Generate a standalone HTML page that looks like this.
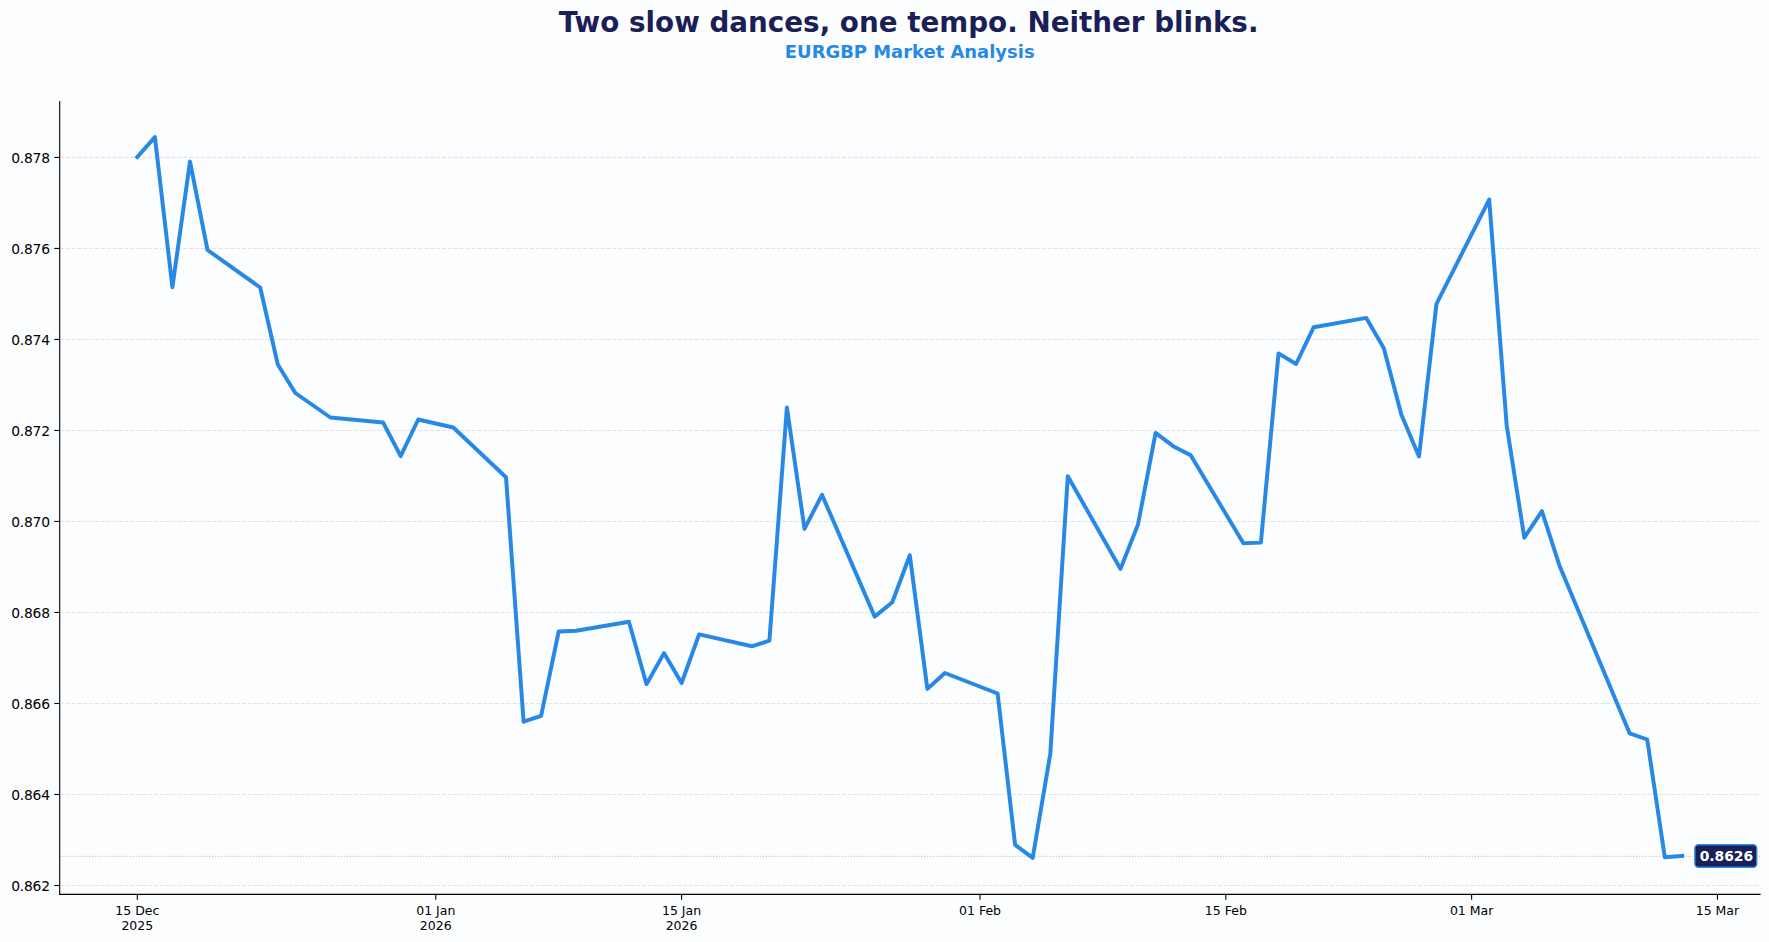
<!DOCTYPE html>
<html lang="en"><head><meta charset="utf-8"><title>EURGBP Market Analysis</title>
<style>
html,body{margin:0;padding:0;background:#fcfdff;}
body{width:1769px;height:942px;overflow:hidden;font-family:"DejaVu Sans","Liberation Sans",sans-serif;}
svg{display:block}
text{font-family:"DejaVu Sans","Liberation Sans",sans-serif;}
.yt{font-size:13.89px;fill:#000;text-anchor:end;letter-spacing:-0.24px}
.xt{font-size:12.5px;fill:#000;text-anchor:middle}
</style></head><body>
<svg width="1769" height="942" viewBox="0 0 1769 942">
<rect x="0" y="0" width="1769" height="942" fill="#fcfdff"/>
<text x="908.6" y="31.55" text-anchor="middle" font-size="27.78px" font-weight="bold" fill="#1b1f55">Two slow dances, one tempo. Neither blinks.</text>
<text x="909.7" y="58.0" text-anchor="middle" font-size="17.95px" font-weight="bold" fill="#2888e6">EURGBP Market Analysis</text>
<g stroke="#c9ced6" stroke-opacity="0.55" stroke-width="1.1" stroke-dasharray="4.1 1.78" fill="none">
<line x1="59.7" y1="885.50" x2="1760.6" y2="885.50"/>
<line x1="59.7" y1="794.49" x2="1760.6" y2="794.49"/>
<line x1="59.7" y1="703.48" x2="1760.6" y2="703.48"/>
<line x1="59.7" y1="612.47" x2="1760.6" y2="612.47"/>
<line x1="59.7" y1="521.46" x2="1760.6" y2="521.46"/>
<line x1="59.7" y1="430.45" x2="1760.6" y2="430.45"/>
<line x1="59.7" y1="339.44" x2="1760.6" y2="339.44"/>
<line x1="59.7" y1="248.43" x2="1760.6" y2="248.43"/>
<line x1="59.7" y1="157.42" x2="1760.6" y2="157.42"/>
</g>
<line x1="59.7" y1="856.4" x2="1760.6" y2="856.4" stroke="#a9adb5" stroke-opacity="0.7" stroke-width="1.1" stroke-dasharray="1.1 1.83"/>
<path d="M137.3 157.0 L154.9 137.1 L172.4 287.2 L190.0 161.6 L207.5 250.0 L260.2 287.5 L277.8 364.5 L295.3 393.0 L330.4 417.5 L383.1 422.5 L400.7 456.2 L418.2 419.5 L453.3 427.5 L506.0 477.2 L523.6 721.7 L541.1 715.8 L558.7 631.5 L576.2 630.7 L628.9 621.8 L646.5 684.2 L664.0 653.1 L681.6 683.0 L699.1 634.4 L751.8 646.3 L769.4 640.7 L786.9 407.5 L804.5 528.9 L822.0 494.8 L874.7 616.6 L892.3 602.2 L909.8 555.2 L927.4 688.9 L944.9 673.0 L997.6 693.5 L1015.1 844.8 L1032.7 857.8 L1050.3 753.8 L1067.8 476.3 L1120.5 568.9 L1138.0 524.5 L1155.6 432.9 L1173.2 446.2 L1190.7 455.2 L1243.4 543.3 L1260.9 542.6 L1278.5 353.4 L1296.1 364.0 L1313.6 327.3 L1366.3 317.9 L1383.8 348.2 L1401.4 414.7 L1419.0 456.5 L1436.5 303.8 L1489.2 199.6 L1506.7 425.5 L1524.3 537.7 L1541.9 511.2 L1559.4 565.4 L1629.6 733.3 L1647.2 739.5 L1664.8 857.2 L1682.3 855.9" fill="none" stroke="#2888e6" stroke-width="3.95" stroke-linejoin="round" stroke-linecap="square"/>
<g stroke="#000" stroke-width="1.1" fill="none">
<line x1="59.7" y1="101.0" x2="59.7" y2="894.9499999999999"/>
<line x1="59.150000000000006" y1="894.4" x2="1760.6" y2="894.4"/>
<line x1="54.29" y1="885.50" x2="59.7" y2="885.50"/>
<line x1="54.29" y1="794.49" x2="59.7" y2="794.49"/>
<line x1="54.29" y1="703.48" x2="59.7" y2="703.48"/>
<line x1="54.29" y1="612.47" x2="59.7" y2="612.47"/>
<line x1="54.29" y1="521.46" x2="59.7" y2="521.46"/>
<line x1="54.29" y1="430.45" x2="59.7" y2="430.45"/>
<line x1="54.29" y1="339.44" x2="59.7" y2="339.44"/>
<line x1="54.29" y1="248.43" x2="59.7" y2="248.43"/>
<line x1="54.29" y1="157.42" x2="59.7" y2="157.42"/>
<line x1="137.30" y1="894.4" x2="137.30" y2="899.81"/>
<line x1="435.77" y1="894.4" x2="435.77" y2="899.81"/>
<line x1="681.57" y1="894.4" x2="681.57" y2="899.81"/>
<line x1="980.04" y1="894.4" x2="980.04" y2="899.81"/>
<line x1="1225.83" y1="894.4" x2="1225.83" y2="899.81"/>
<line x1="1471.63" y1="894.4" x2="1471.63" y2="899.81"/>
<line x1="1717.43" y1="894.4" x2="1717.43" y2="899.81"/>
</g>
<text class="yt" x="49.8" y="890.90">0.862</text>
<text class="yt" x="49.8" y="799.89">0.864</text>
<text class="yt" x="49.8" y="708.88">0.866</text>
<text class="yt" x="49.8" y="617.87">0.868</text>
<text class="yt" x="49.8" y="526.86">0.870</text>
<text class="yt" x="49.8" y="435.85">0.872</text>
<text class="yt" x="49.8" y="344.84">0.874</text>
<text class="yt" x="49.8" y="253.83">0.876</text>
<text class="yt" x="49.8" y="162.82">0.878</text>
<text class="xt" x="137.30" y="915.1">15 Dec</text>
<text class="xt" x="137.30" y="930.0">2025</text>
<text class="xt" x="435.77" y="915.1">01 Jan</text>
<text class="xt" x="435.77" y="930.0">2026</text>
<text class="xt" x="681.57" y="915.1">15 Jan</text>
<text class="xt" x="681.57" y="930.0">2026</text>
<text class="xt" x="980.04" y="915.1">01 Feb</text>
<text class="xt" x="1225.83" y="915.1">15 Feb</text>
<text class="xt" x="1471.63" y="915.1">01 Mar</text>
<text class="xt" x="1717.43" y="915.1">15 Mar</text>
<rect x="1694.9" y="844.7" width="61.8" height="22.6" rx="3.6" ry="3.6" fill="#1b1f5a" stroke="#2888e6" stroke-width="1.4"/>
<text x="1726.4" y="861.1" text-anchor="middle" font-size="13.89px" font-weight="bold" fill="#fff">0.8626</text>
</svg>
</body></html>
